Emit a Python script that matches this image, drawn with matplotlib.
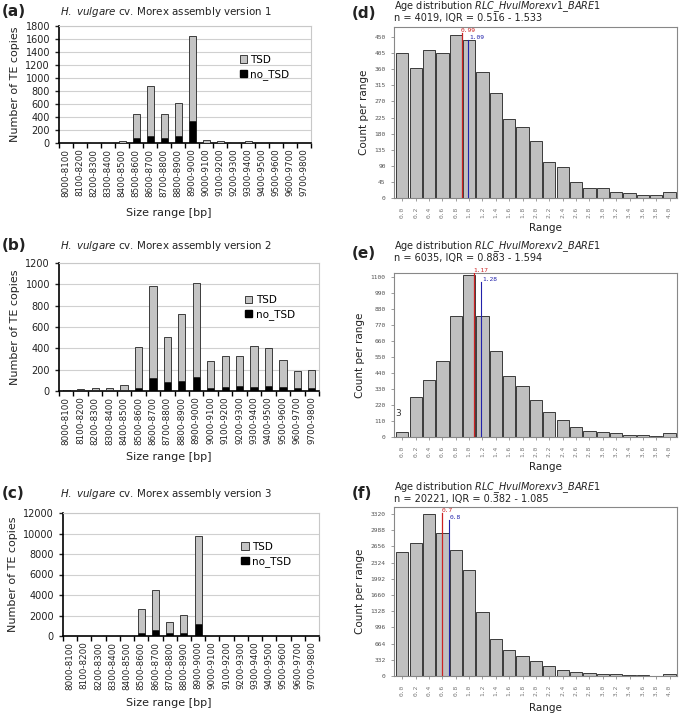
import numpy as np
import matplotlib.pyplot as plt
from matplotlib.patches import Patch

# Size ranges (left panels)
size_ranges = ["8000-8100", "8100-8200", "8200-8300", "8300-8400", "8400-8500",
               "8500-8600", "8600-8700", "8700-8800", "8800-8900", "8900-9000",
               "9000-9100", "9100-9200", "9200-9300", "9300-9400", "9400-9500",
               "9500-9600", "9600-9700", "9700-9800"]

# totals and no_TSD counts
v1_total = [2, 15, 15, 15, 36, 445, 874, 445, 616, 1645, 47, 36, 15, 36, 15, 15, 15, 3]
v1_notsd = [1, 3, 3, 3, 5, 83, 114, 83, 103, 341, 5, 5, 3, 5, 3, 3, 3, 1]
v2_total = [12, 19, 25, 25, 54, 411, 981, 506, 725, 1016, 278, 332, 332, 421, 405, 288, 190, 196]
v2_notsd = [8, 5, 5, 5, 10, 32, 120, 82, 92, 127, 32, 41, 47, 41, 47, 41, 25, 32]
v3_total = [5, 5, 65, 65, 65, 2623, 4525, 1377, 2066, 9738, 65, 5, 5, 5, 5, 5, 5, 5]
v3_notsd = [1, 1, 10, 10, 10, 262, 557, 262, 328, 1180, 10, 1, 1, 1, 1, 1, 1, 1]

# Age distributions (right panels)
age_bins = ["0.0", "0.2", "0.4", "0.6", "0.8", "1.0", "1.2", "1.4", "1.6", "1.8", "2.0",
            "2.2", "2.4", "2.6", "2.8", "3.0", "3.2", "3.4", "3.6", "3.8", "4.0"]
age_v1 = [405, 362, 413, 405, 457, 442, 353, 294, 222, 198, 158, 100, 88, 46, 28, 27, 17, 15, 7, 7, 18]
age_v2 = [35, 276, 389, 525, 833, 1110, 829, 589, 421, 352, 255, 170, 115, 67, 44, 32, 28, 14, 12, 7, 25]
age_v3 = [2551, 2723, 3320, 2929, 2586, 2174, 1310, 768, 542, 418, 302, 206, 130, 82, 62, 41, 48, 27, 27, 7, 41]
median_vals = [0.99, 1.17, 0.7]
mean_vals = [1.09, 1.28, 0.8]
n_vals = [4019, 6035, 20221]
iqr_vals = ["0.516 - 1.533", "0.883 - 1.594", "0.382 - 1.085"]

W, H = 680, 715
fig = plt.figure(figsize=(W / 100, H / 100), dpi=100)


def px_axes(l, t, r, b):
    return fig.add_axes([l / W, 1 - b / H, (r - l) / W, (b - t) / H])


def size_panel(box, total, notsd, ymax, ystep, version, letter, leg_xy, title_y, xlab_y):
    ax = px_axes(*box)
    x = np.arange(len(size_ranges))
    tsd = np.array(total) - np.array(notsd)
    ax.bar(x, notsd, width=0.5, color="black", edgecolor="black", linewidth=0.5, zorder=3)
    ax.bar(x, tsd, bottom=notsd, width=0.5, color="#c4c4c4", edgecolor="#222222",
           linewidth=0.6, zorder=3)
    ax.set_xlim(-0.5, len(x) - 0.5)
    ax.set_ylim(0, ymax)
    ax.set_yticks(np.arange(0, ymax + 1, ystep))
    ax.yaxis.grid(True, color="#d0d0d0", linewidth=0.8, zorder=0)
    ax.set_xticks(x)
    ax.set_xticklabels(size_ranges, rotation=90, fontsize=6.3, color="#222222")
    ax.set_xticks(np.arange(-0.5, len(x)), minor=True)
    ax.tick_params(axis="x", which="major", length=0, pad=4)
    ax.tick_params(axis="x", which="minor", length=3.5, width=1.0, direction="out")
    ax.tick_params(axis="y", length=3, width=1.0, labelsize=7, colors="#222222")
    for s in ["top", "right"]:
        ax.spines[s].set_color("#c8c8c8")
        ax.spines[s].set_linewidth(0.8)
    for s in ["left", "bottom"]:
        ax.spines[s].set_linewidth(1.2)
    ax.set_ylabel("Number of TE copies", fontsize=8, color="#222222", labelpad=4)
    ax.legend([Patch(facecolor="#c4c4c4", edgecolor="#222222", linewidth=0.6),
               Patch(facecolor="black", edgecolor="black")],
              ["TSD", "no_TSD"], loc="upper left", bbox_to_anchor=leg_xy, frameon=False,
              fontsize=7.5, handlelength=0.7, handleheight=0.7, handletextpad=0.3,
              labelspacing=0.4, borderaxespad=0)
    fig.text(166 / W, 1 - title_y / H,
             r"$\it{H.\ vulgare}$" + " cv. Morex assembly version " + version,
             ha="center", va="center", fontsize=7.4, color="#222222")
    fig.text(2 / W, 1 - (title_y - 1) / H, "(" + letter + ")", ha="left", va="center",
             fontsize=11, fontweight="bold", color="#222222")
    fig.text(169 / W, 1 - xlab_y / H, "Size range [bp]", ha="center", va="center",
             fontsize=8, color="#222222")
    return ax


def age_panel(box, counts, ytick_step, ymax, idx, letter, title_y, xlab_y, med_top, mean_top):
    ax = px_axes(*box)
    x = np.arange(len(age_bins))
    ax.bar(x, counts, width=0.92, color="#c0c0c0", edgecolor="#3a3a3a", linewidth=0.7, zorder=2)
    ax.set_xlim(-0.62, len(x) - 0.45)
    ax.set_ylim(0, ymax)
    ax.set_yticks(np.arange(0, ymax, ytick_step))
    ax.set_xticks(x)
    ax.set_xticklabels(age_bins, rotation=90, fontsize=4.5, color="#555555", family="DejaVu Sans Mono")
    ax.tick_params(axis="both", length=2, width=0.5, colors="#777777", labelsize=4.5, pad=4)
    for lab in ax.get_yticklabels():
        lab.set_family("DejaVu Sans Mono")
        lab.set_color("#555555")
    for s in ax.spines.values():
        s.set_color("#888888")
        s.set_linewidth(0.8)
    # median (red) and mean (blue)
    xm = median_vals[idx] / 0.2 - 0.5
    xa = mean_vals[idx] / 0.2 - 0.5
    ax.plot([xm, xm], [0, med_top], color="#cc2222", linewidth=0.9, zorder=3)
    ax.plot([xa, xa], [0, mean_top], color="#2222aa", linewidth=0.8, zorder=3)
    ax.text(xm - 0.05, med_top, str(median_vals[idx]), color="#cc2222", fontsize=4.5,
            family="DejaVu Sans Mono", ha="left", va="bottom")
    ax.text(xa + 0.05, mean_top, str(mean_vals[idx]), color="#2222aa", fontsize=4.5,
            family="DejaVu Sans Mono", ha="left", va="bottom")
    ax.set_ylabel("Count per range", fontsize=7.5, color="#222222", labelpad=4)
    fig.text(box[0] / W, 1 - title_y / H,
             "Age distribution " + r"$\it{RLC\_HvulMorexv" + str(idx + 1) + r"\_BARE1}$",
             ha="left", va="center", fontsize=7, color="#222222")
    fig.text(box[0] / W, 1 - (title_y + 11) / H,
             "n = " + str(n_vals[idx]) + ", IQR = " + iqr_vals[idx],
             ha="left", va="center", fontsize=7, color="#222222")
    fig.text(352 / W, 1 - (title_y + 6) / H, "(" + letter + ")", ha="left", va="center",
             fontsize=11, fontweight="bold", color="#222222")
    fig.text(545 / W, 1 - xlab_y / H, "Range", ha="center", va="center",
             fontsize=7.5, color="#222222")
    return ax


size_panel((59, 26, 311, 143), v1_total, v1_notsd, 1800, 200, "1", "a", (0.70, 0.79), 12, 213)
size_panel((59, 263, 319, 391), v2_total, v2_notsd, 1200, 200, "2", "b", (0.70, 0.78), 246, 457)
size_panel((63, 513, 319, 636), v3_total, v3_notsd, 12000, 2000, "3", "c", (0.68, 0.80), 494, 703)

age_panel((394, 27, 677, 198), age_v1, 45, 478, 0, "d", 7, 228, 462, 443)
ax_e = age_panel((394, 273, 677, 437), age_v2, 110, 1127, 1, "e", 247, 467, 1127, 1066)
ax_e.text(-0.55, 130, "3", fontsize=6.5, color="#333333", ha="left", va="bottom")
age_panel((394, 507, 677, 676), age_v3, 332, 3465, 2, "f", 488, 708, 3340, 3200)

fig.savefig("out.png", dpi=100)
